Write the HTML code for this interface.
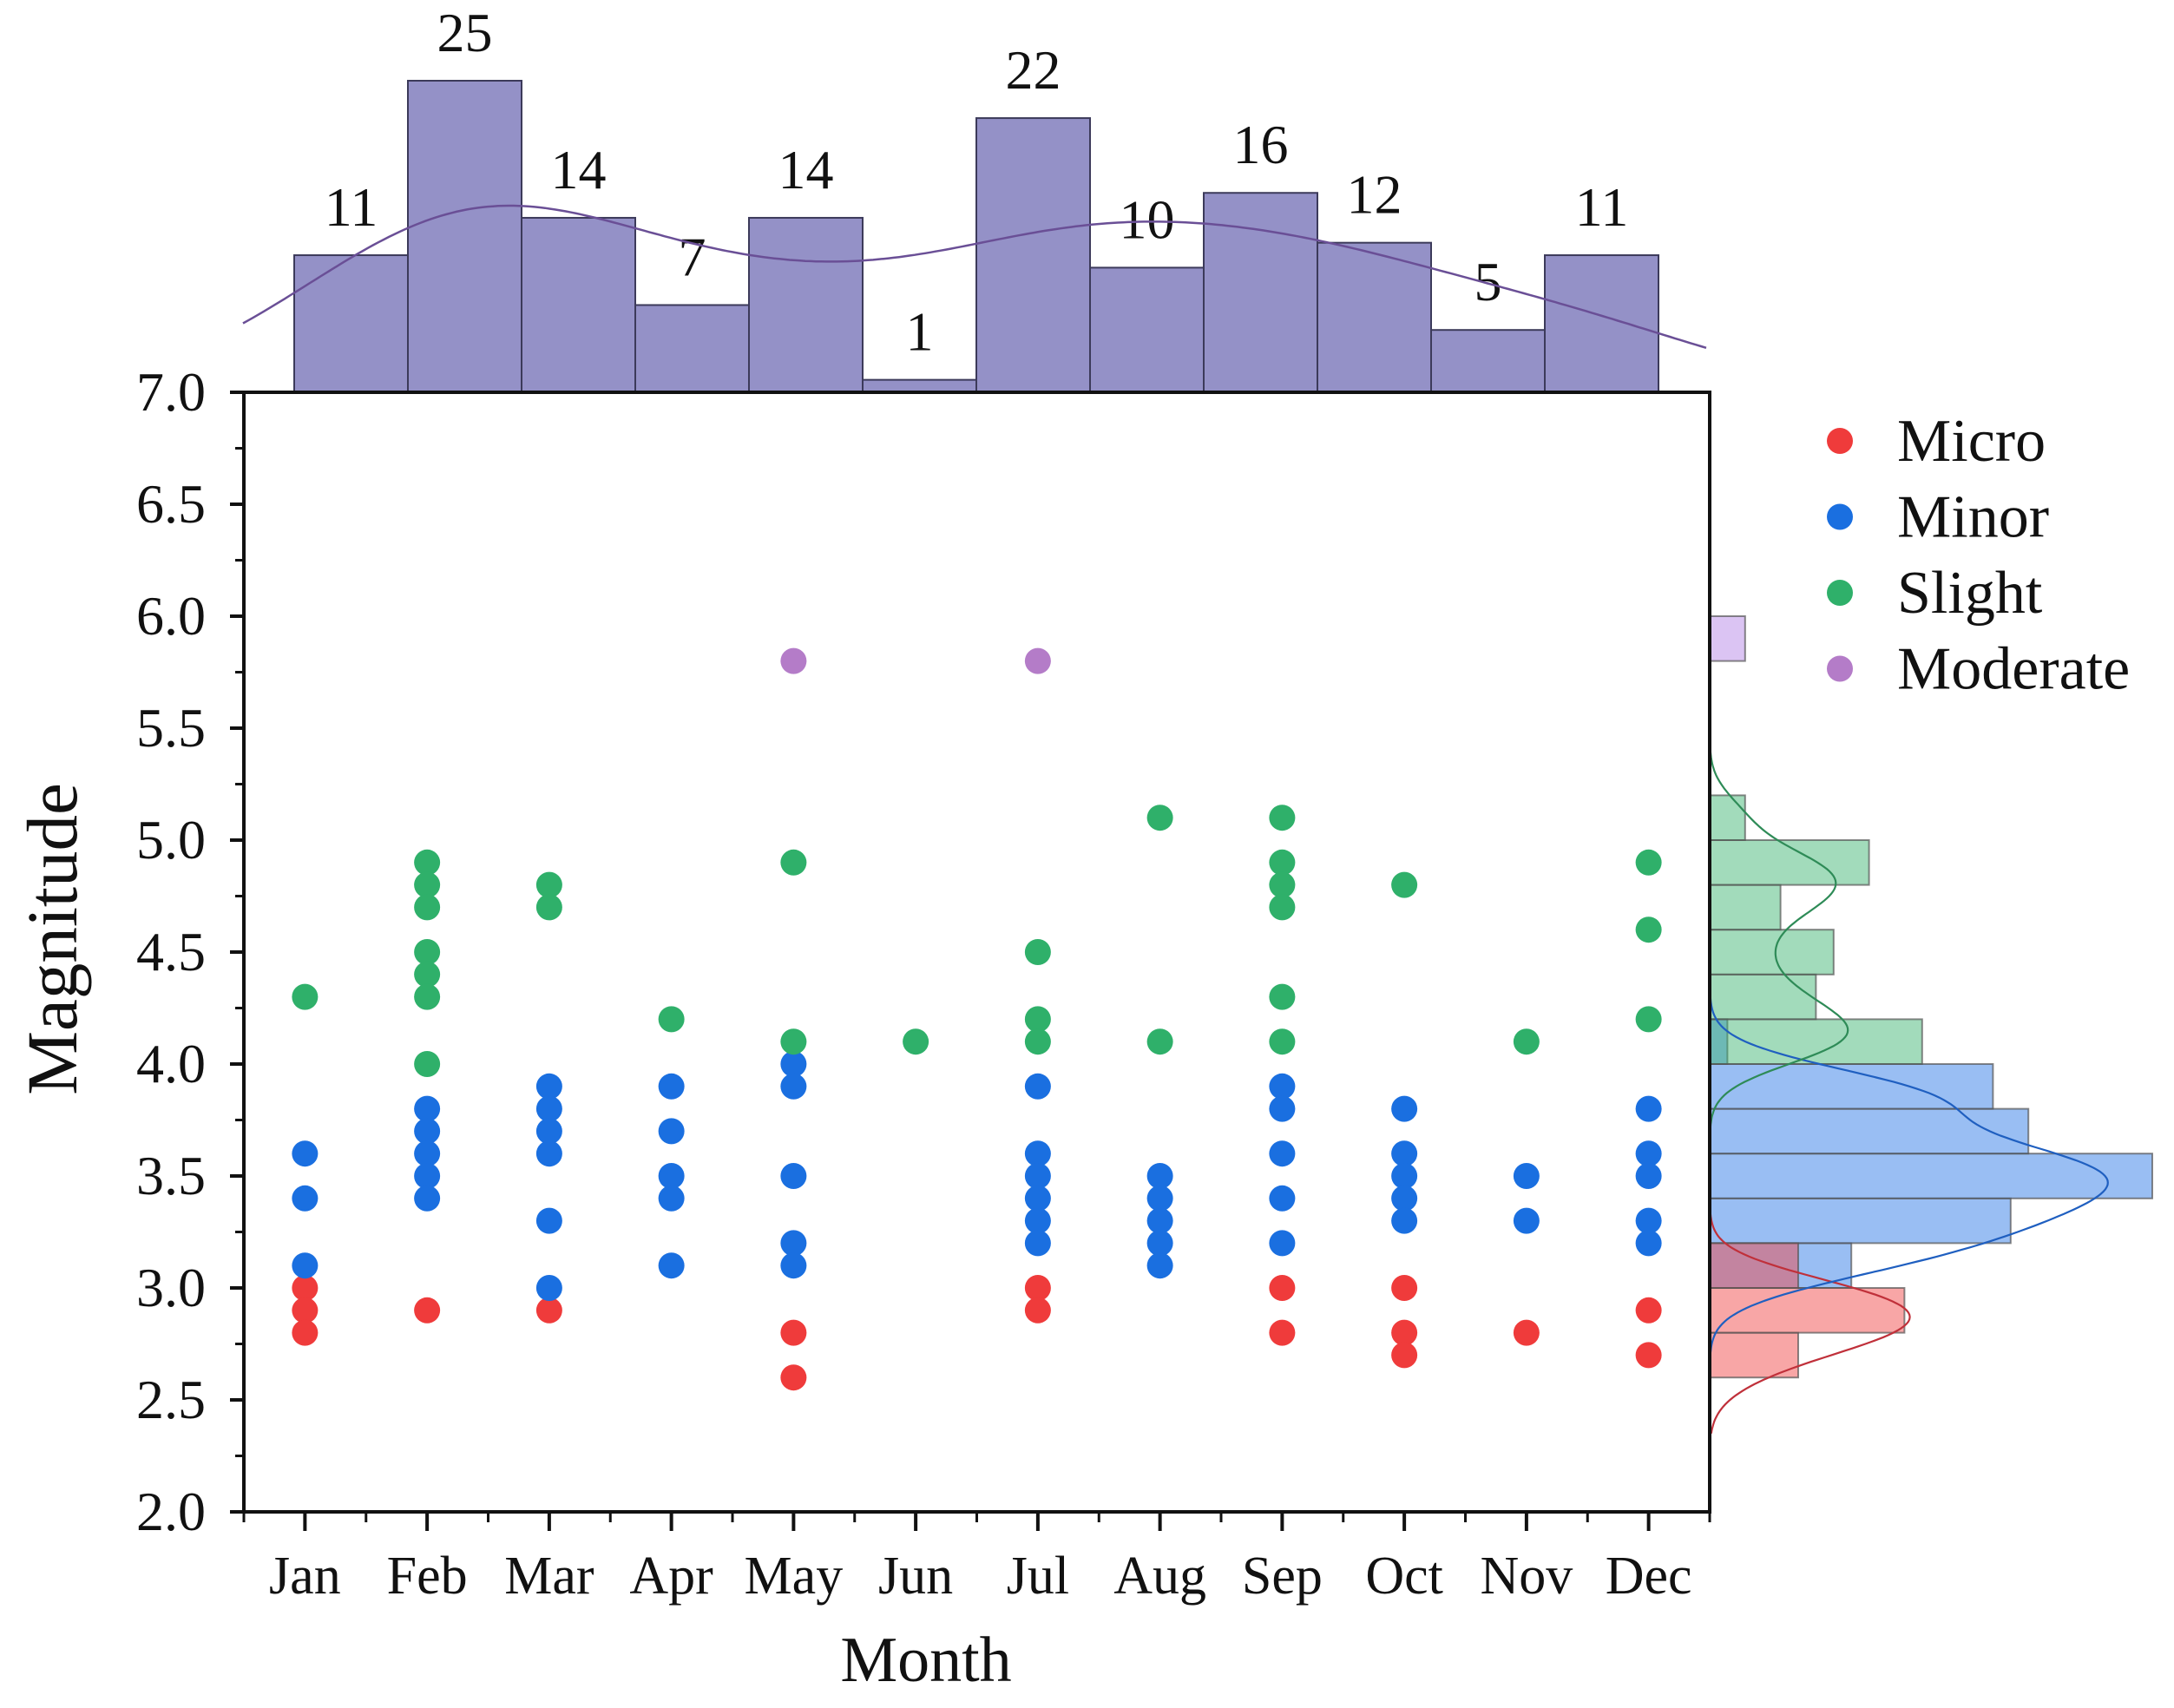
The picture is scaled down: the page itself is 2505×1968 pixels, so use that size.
<!DOCTYPE html>
<html><head><meta charset="utf-8">
<style>
html,body{margin:0;padding:0;background:#fff;}
svg{display:block;font-family:"Liberation Serif",serif;}
</style></head>
<body>
<svg id="chart" width="2505" height="1968" viewBox="0 0 2505 1968" xmlns="http://www.w3.org/2000/svg">
<g id="g-top"></g>
<g id="g-right"></g>
<g id="g-axes"></g>
<g id="g-points"></g>
<g id="g-legend"></g>
</svg>
<script>
const months = ["Jan","Feb","Mar","Apr","May","Jun","Jul","Aug","Sep","Oct","Nov","Dec"];
const monthCounts = [11,25,14,7,14,1,22,10,16,12,5,11];
const microVals = [[3.0,2.9,2.8],[2.9],[2.9],[],[2.8,2.6],[],[3.0,2.9],[],[3.0,2.8],[3.0,2.8,2.7],[2.8],[2.9,2.7]];
const minorVals = [[3.6,3.4,3.1],[3.8,3.7,3.6,3.5,3.4],[3.9,3.8,3.7,3.6,3.3,3.0],[3.9,3.7,3.5,3.4,3.1],[4.0,3.9,3.5,3.2,3.1],[],[3.9,3.6,3.5,3.4,3.3,3.2],[3.5,3.4,3.3,3.2,3.1],[3.9,3.8,3.6,3.4,3.2],[3.8,3.6,3.5,3.4,3.3],[3.5,3.3],[3.8,3.6,3.5,3.3,3.2]];
const slightVals = [[4.3],[4.9,4.8,4.7,4.5,4.4,4.3,4.0],[4.8,4.7],[4.2],[4.9,4.1],[4.1],[4.5,4.2,4.1],[5.1,4.1],[5.1,4.9,4.8,4.7,4.3,4.1],[4.8],[4.1],[4.9,4.6,4.2]];
const moderateVals = [[],[],[],[],[5.8],[],[5.8],[],[],[],[],[]];
const binStarts = [2.6,2.8,3.0,3.2,3.4,3.6,3.8,4.0,4.2,4.4,4.6,4.8,5.0,5.2,5.4,5.6,5.8];
const microBins =    [5,11,5,0,0,0,0,0,0,0,0,0,0,0,0,0,0];
const minorBins =    [0,0,8,17,25,18,16,1,0,0,0,0,0,0,0,0,0];
const slightBins =   [0,0,0,0,0,0,0,12,6,7,4,9,2,0,0,0,0];
const moderateBins = [0,0,0,0,0,0,0,0,0,0,0,0,0,0,0,0,2];
const yTicks = [2.0,2.5,3.0,3.5,4.0,4.5,5.0,5.5,6.0,6.5,7.0];

const NS="http://www.w3.org/2000/svg";
const L=281,R=1970,T=452,B=1742,yMin=2,yMax=7;
const band=(R-L)/12;
const xC=i=>L+band*(i+0.5);
const yS=v=>B-(v-yMin)/(yMax-yMin)*(B-T);
const histL=339,histW=131,cntPx=14.36;
const hX=i=>histL+histW*i;
const hY=c=>T-c*cntPx;
const rPx=20.4;
const rX=c=>R+c*rPx;
function mk(tag,attrs,parent){const e=document.createElementNS(NS,tag);for(const k in attrs)e.setAttribute(k,attrs[k]);parent.appendChild(e);return e;}
const gTop=document.getElementById('g-top'),gRight=document.getElementById('g-right'),gAx=document.getElementById('g-axes'),gPts=document.getElementById('g-points'),gLeg=document.getElementById('g-legend');

// top histogram
monthCounts.forEach((c,i)=>{
  const r=mk('rect',{x:hX(i),y:hY(c),width:histW,height:c*cntPx,fill:'#9491c7',stroke:'#3c3a5a','stroke-width':2},gTop);
  
  
  const t=mk('text',{x:hX(i)+histW/2,y:hY(c)-34,'text-anchor':'middle','font-size':64,fill:'#111'},gTop);
  t.textContent=c;
  
  
});
// top KDE curve from counts
(function(){
  let d='';const bw=1.3,k=1.02;
  for(let x=280;x<=1970;x+=6){
    const pos=(x-histL)/histW-0.5;let s=0;
    monthCounts.forEach((c,i)=>{s+=c*Math.exp(-0.5*Math.pow((pos-i)/bw,2));});
    const v=k*s/(bw*Math.sqrt(2*Math.PI));
    d+=(d?'L':'M')+x+','+hY(v).toFixed(1);
  }
  const p=mk('path',{d:d,fill:'none',stroke:'#6a4f96','stroke-width':2.5},gTop);
  
  
})();

// right histograms
const cats=[
 {name:'micro',bins:microBins,vals:microVals,fill:'#f04545',line:'#c0303a',dot:'#ef3b3b',label:'Micro',k:1.35},
 {name:'minor',bins:minorBins,vals:minorVals,fill:'#2a78e6',line:'#1f5fc0',dot:'#1a6fe0',label:'Minor',k:1.6},
 {name:'slight',bins:slightBins,vals:slightVals,fill:'#3cb371',line:'#2e8b57',dot:'#2fb06a',label:'Slight',k:1.1},
 {name:'moderate',bins:moderateBins,vals:moderateVals,fill:'#b483e6',line:'#9b6fd0',dot:'#b47cc8',label:'Moderate',k:1}
];
[cats[1],cats[2],cats[3],cats[0]].forEach(cat=>{
  cat.bins.forEach((c,i)=>{
    if(!c)return;
    const r=mk('rect',{x:R,y:yS(binStarts[i]+0.2),width:c*rPx,height:yS(binStarts[i])-yS(binStarts[i]+0.2),fill:cat.fill,'fill-opacity':0.48,stroke:'#555','stroke-opacity':0.7,'stroke-width':2},gRight);
    
    
  });
});
cats.slice(0,3).forEach(cat=>{
  const v=[].concat(...cat.vals);const n=v.length;const bw=0.11;
  let d='';
  for(let m=2.35;m<=5.45;m+=0.01){
    let s=0;v.forEach(x=>{s+=Math.exp(-0.5*Math.pow((m-x)/bw,2));});
    const dens=s/(n*bw*Math.sqrt(2*Math.PI));
    const c=dens*n*0.2*cat.k;
    d+=(d?'L':'M')+rX(c).toFixed(1)+','+yS(m).toFixed(1);
  }
  const p=mk('path',{d:d,fill:'none',stroke:cat.line,'stroke-width':2.2},gRight);
  
  
});

// axes box
const box=mk('rect',{x:L,y:T,width:R-L,height:B-T,fill:'none',stroke:'#111','stroke-width':4},gAx);


yTicks.forEach(v=>{
  mk('line',{x1:L-16,x2:L,y1:yS(v),y2:yS(v),stroke:'#111','stroke-width':4},gAx);
  const t=mk('text',{x:L-44,y:yS(v)+21,'text-anchor':'end','font-size':64,fill:'#111'},gAx);
  t.textContent=v.toFixed(1);
  
  
});
for(let k=0;k<10;k++){const v=2.25+k*0.5;mk('line',{x1:L-10,x2:L,y1:yS(v),y2:yS(v),stroke:'#111','stroke-width':3},gAx);}
months.forEach((m,i)=>{
  mk('line',{x1:xC(i),x2:xC(i),y1:B,y2:B+22,stroke:'#111','stroke-width':4},gAx);
  const t=mk('text',{x:xC(i),y:1836,'text-anchor':'middle','font-size':62,fill:'#111'},gAx);
  t.textContent=m;
  
  
});
for(let i=0;i<=12;i++){mk('line',{x1:L+band*i,x2:L+band*i,y1:B,y2:B+12,stroke:'#111','stroke-width':3},gAx);}
const xt=mk('text',{x:1067,y:1937,'text-anchor':'middle','font-size':74,fill:'#111'},gAx);
xt.textContent='Month';


const yt=mk('text',{x:0,y:0,'text-anchor':'middle','font-size':83,fill:'#111',transform:'translate(88,1082) rotate(-90)'},gAx);
yt.textContent='Magnitude';



// points
cats.forEach(cat=>{
  cat.vals.forEach((arr,i)=>{
    arr.forEach(v=>{
      const c=mk('circle',{cx:xC(i),cy:yS(v),r:15,fill:cat.dot},gPts);
      
      
    });
  });
});

// legend
cats.forEach((cat,k)=>{
  const y=508+k*87.5;
  const c=mk('circle',{cx:2120,cy:y,r:15,fill:cat.dot},gLeg);
  
  
  const t=mk('text',{x:2186,y:y+23,'font-size':70,fill:'#111'},gLeg);
  t.textContent=cat.label;
  
  
});
</script>
</body></html>
